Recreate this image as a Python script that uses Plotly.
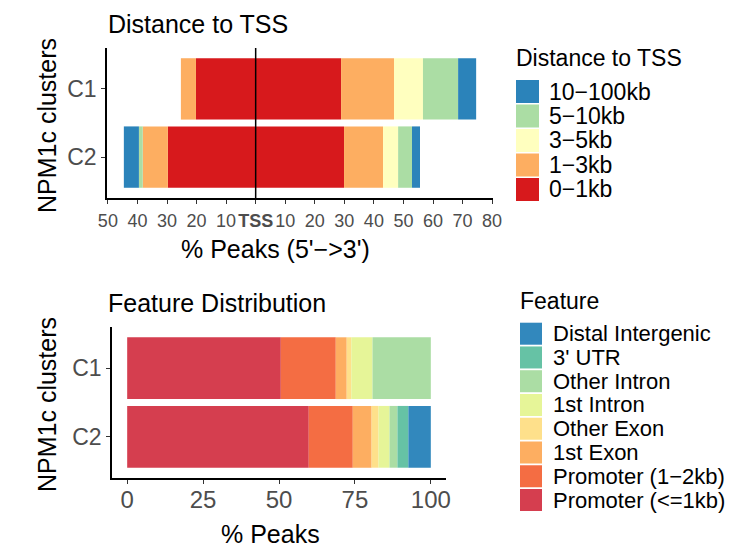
import plotly.graph_objects as go

# ---------------- data ----------------
clusters = ["C1", "C2"]
tss_bins = ["0−1kb", "1−3kb", "3−5kb", "5−10kb", "10−100kb"]
tss_colors = ["#D7191C", "#FDAE61", "#FFFFBF", "#ABDDA4", "#2B83BA"]
# % peaks upstream (5') and downstream (3') of the TSS, per bin
c1_upstream = [20.2, 5.1, 0.0, 0.0, 0.0]
c1_downstream = [28.9, 17.9, 9.8, 11.9, 6.1]
c2_upstream = [29.7, 8.5, 0.0, 1.3, 5.1]
c2_downstream = [29.9, 13.2, 5.1, 4.7, 2.7]
tss_tickvals = [-50, -40, -30, -20, -10, 0, 10, 20, 30, 40, 50, 60, 70, 80]
tss_ticktext = ["50", "40", "30", "20", "10", "<b>TSS</b>", "10", "20", "30",
                "40", "50", "60", "70", "80"]

features = ["Promoter (<=1kb)", "Promoter (1−2kb)", "1st Exon", "Other Exon",
            "1st Intron", "Other Intron", "3' UTR", "Distal Intergenic"]
feat_colors = ["#D53E4F", "#F46D43", "#FDAE61", "#FEE08B", "#E6F598",
               "#ABDDA4", "#66C2A5", "#3288BD"]
c1_feature = [50.6, 18.1, 3.6, 1.5, 7.0, 19.2, 0.0, 0.0]
c2_feature = [59.8, 14.5, 6.2, 2.3, 3.6, 2.6, 3.6, 7.4]
feat_tickvals = [0, 25, 50, 75, 100]

W, H = 753, 550
FONT = "Liberation Sans, Arial, Helvetica, sans-serif"


def px(x):
    return x / W


def py(y):
    return 1 - y / H


fig = go.Figure()

# ---------------- top panel: distance to TSS ----------------
for i, b in enumerate(tss_bins):
    fig.add_trace(go.Bar(
        y=clusters, x=[c1_downstream[i], c2_downstream[i]], orientation="h",
        marker=dict(color=tss_colors[i], line=dict(width=0)),
        name=b, showlegend=False, xaxis="x", yaxis="y"))
    fig.add_trace(go.Bar(
        y=clusters, x=[-c1_upstream[i], -c2_upstream[i]], orientation="h",
        marker=dict(color=tss_colors[i], line=dict(width=0)),
        name=b, showlegend=False, xaxis="x", yaxis="y"))

# ---------------- bottom panel: feature distribution ----------------
for i, f in enumerate(features):
    fig.add_trace(go.Bar(
        y=clusters, x=[c1_feature[i], c2_feature[i]], orientation="h",
        marker=dict(color=feat_colors[i], line=dict(width=0)),
        name=f, showlegend=False, xaxis="x2", yaxis="y2"))

axis_common = dict(showgrid=False, zeroline=False, showline=True,
                   linecolor="black", linewidth=1.5, ticks="outside",
                   ticklen=4, tickwidth=1.2, tickcolor="#333333",
                   automargin=False, tickangle=0)

fig.update_layout(
    width=W, height=H, margin=dict(l=0, r=0, t=0, b=0, autoexpand=False),
    plot_bgcolor="white", paper_bgcolor="white",
    barmode="relative", bargap=0.1, showlegend=False,
    font=dict(family=FONT, color="black"),
    xaxis=dict(domain=[px(107), px(493)], anchor="y", range=[-50.3, 80.3],
               tickvals=tss_tickvals, ticktext=tss_ticktext,
               ticklabelstandoff=2,
               tickfont=dict(size=18, color="#4D4D4D"), **axis_common),
    yaxis=dict(domain=[py(198), py(48)], anchor="x", type="category",
               categoryorder="array", categoryarray=["C2", "C1"],
               range=[-0.6, 1.6], tickfont=dict(size=23, color="#4D4D4D"),
               **axis_common),
    xaxis2=dict(domain=[px(112), px(446)], anchor="y2", range=[-5, 105],
                tickvals=feat_tickvals, ticklabelstandoff=-5,
                tickfont=dict(size=24, color="#4D4D4D"), **axis_common),
    yaxis2=dict(domain=[py(478), py(327)], anchor="x2", type="category",
                categoryorder="array", categoryarray=["C2", "C1"],
                range=[-0.6, 1.6], tickfont=dict(size=23, color="#4D4D4D"),
                **axis_common),
)

# TSS line
fig.add_shape(type="line", xref="x", yref="y domain", x0=0, x1=0, y0=0, y1=1,
              line=dict(color="black", width=1.5), layer="above")

annos = []


def text(x, y, s, size, xanchor="left", angle=0):
    annos.append(dict(x=px(x), y=py(y), xref="paper", yref="paper", text=s,
                      showarrow=False, xanchor=xanchor, yanchor="middle",
                      textangle=angle, font=dict(size=size, color="black",
                                                 family=FONT)))


# titles
text(106, 23.5, "Distance to TSS", 25)
text(106, 303, "Feature Distribution", 25)
# axis titles
text(275, 249, "% Peaks (5'−>3')", 25, xanchor="center")
text(270, 534, "% Peaks", 25, xanchor="center")
text(47, 126, "NPM1c clusters", 25, xanchor="center", angle=-90)
text(47, 405, "NPM1c clusters", 25, xanchor="center", angle=-90)

# legend 1 (custom, reversed order)
text(514, 58, "Distance to TSS", 23)
for k, (b, c) in enumerate(zip(tss_bins[::-1], tss_colors[::-1])):
    y0 = 80 + 24.5 * k
    fig.add_shape(type="rect", xref="paper", yref="paper",
                  x0=px(516), x1=px(539), y0=py(y0 + 23), y1=py(y0),
                  fillcolor=c, line=dict(width=0))
    text(547, y0 + 11.5, b, 23)

# legend 2
text(518, 301, "Feature", 23)
for k, (f, c) in enumerate(zip(features[::-1], feat_colors[::-1])):
    y0 = 322.7 + 23.76 * k
    fig.add_shape(type="rect", xref="paper", yref="paper",
                  x0=px(520), x1=px(542), y0=py(y0 + 22), y1=py(y0),
                  fillcolor=c, line=dict(width=0))
    text(551, y0 + 11, f, 22)

fig.update_layout(annotations=annos)
fig.write_html("out.html")
